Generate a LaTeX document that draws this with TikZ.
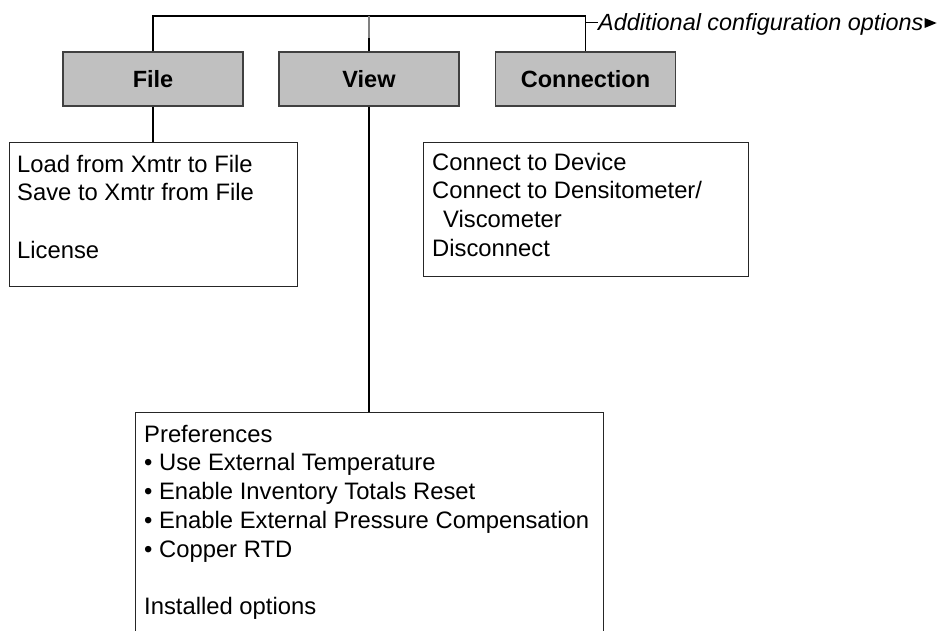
\documentclass[tikz,border=0pt]{standalone}
\usepackage{fontspec}
\setmainfont{Liberation Sans}
\definecolor{hdrgray}{HTML}{C0C0C0}
\begin{document}
\begin{tikzpicture}[x=1pt,y=-1pt,
  hdr/.style={draw=black!75, fill=hdrgray, line width=1.2pt, minimum width=180pt, minimum height=54pt, inner sep=0pt, font=\fontsize{23.5}{28}\selectfont\bfseries},
  cbox/.style={draw=black!85, line width=1.2pt, inner sep=0pt, anchor=north west},
  ctext/.style={anchor=north west, inner sep=0pt, align=left, font=\fontsize{23.8}{28.7}\selectfont},
  link/.style={draw=black, line width=1.2pt}]
\useasboundingbox (0,0) rectangle (948,631);
\clip (0,0) rectangle (948,631);

% header boxes
\node[hdr] (file) at (153,79) {File};
\node[hdr] (view) at (369,79) {View};
\node[hdr] (conn) at (585.5,79) {Connection};

% tree lines
\coordinate (tl) at (153,16);
\coordinate (tr) at (585.5,16);
\coordinate (vtop) at (369,16);
\coordinate (vmid) at (369,38);
\draw[link] (file.north) -- (tl) -- (tr) -- (conn.north);
\draw[link] (view.north) -- (vmid);
\draw[link, draw=black!50] (vmid) -- (vtop);

% additional options label
\node[anchor=base west, inner sep=0pt, font=\fontsize{23.4}{28}\selectfont\itshape] (add) at (598,31) {Additional configuration options};
\coordinate (tick) at (585.5,23);
\draw[link, line width=1pt] (tick) -- (add.west |- tick);
\fill (add.base east) ++(1,-13) -- ++(0,10) -- ++(12,-5) -- cycle;

% File content
\node[cbox, minimum width=288pt, minimum height=144pt] (filebox) at (9,142) {};
\node[ctext] (filetext) at (17,152) {\rule{0pt}{20pt}Load from Xmtr to File\\Save to Xmtr from File\\[28.7pt]License};
\draw[link] (file.south) -- (file.south |- filebox.north);

% Connection content
\node[cbox, minimum width=325pt, minimum height=134pt] (connbox) at (423,142) {};
\node[ctext] (conntext) at (432,150) {\rule{0pt}{20pt}Connect to Device\\Connect to Densitometer/\\\hspace*{11pt}Viscometer\\Disconnect};

% View content
\node[cbox, minimum width=468pt, minimum height=240pt] (viewbox) at (135,412) {};
\node[ctext] (viewtext) at (144,422) {\rule{0pt}{20pt}Preferences\\• Use External Temperature\\• Enable Inventory Totals Reset\\• Enable External Pressure Compensation\\• Copper RTD\\[28.7pt]Installed options};
\draw[link] (view.south) -- (view.south |- viewbox.north);
\end{tikzpicture}
\end{document}
